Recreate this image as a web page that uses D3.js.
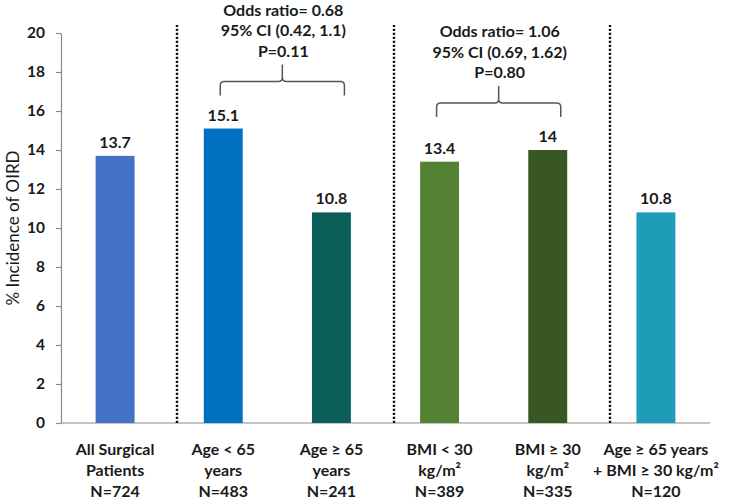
<!DOCTYPE html>
<html>
<head>
<meta charset="utf-8">
<script src="https://cdn.jsdelivr.net/npm/d3@7"></script>
<style>
  html, body { margin: 0; padding: 0; background: #fff; }
  svg { display: block; font-family: Lato, "Open Sans", sans-serif; }
</style>
</head>
<body>
<svg id="chart" width="748" height="504"></svg>
<script>
// ---- data ----
const categoryLabels = [
  ["All Surgical", "Patients", "N=724"],
  ["Age < 65", "years", "N=483"],
  ["Age ≥ 65", "years", "N=241"],
  ["BMI < 30", "kg/m²", "N=389"],
  ["BMI ≥ 30", "kg/m²", "N=335"],
  ["Age ≥ 65 years", "+ BMI ≥ 30 kg/m²", "N=120"]
];
const values = [13.7, 15.1, 10.8, 13.4, 14, 10.8];
const valueLabels = ["13.7", "15.1", "10.8", "13.4", "14", "10.8"];
const barColors = ["#4472C4", "#0070C0", "#0C5F59", "#548235", "#385723", "#1E9CB8"];
const yTicks = [0, 2, 4, 6, 8, 10, 12, 14, 16, 18, 20];
const separatorsBefore = [1, 3, 5];
const comparisons = [
  { from: 1, to: 2, lines: ["Odds ratio= 0.68", "95% CI (0.42, 1.1)", "P=0.11"] },
  { from: 3, to: 4, lines: ["Odds ratio= 1.06", "95% CI (0.69, 1.62)", "P=0.80"] }
];
const yTitle = "% Incidence of OIRD";

// ---- layout ----
(function () {
const svg = d3.select("#chart");
const mLeft = 61, mRight = 710, mTop = 33, mBottom = 423;
const x = d3.scaleBand().domain(d3.range(values.length)).range([mLeft, mRight]).padding(0);
const y = d3.scaleLinear().domain([0, 20]).range([mBottom, mTop]);
const bw = x.bandwidth() * 0.36;
const cx = i => x(i) + x.bandwidth() / 2;
const textColor = "#1a1a1a";
const axisColor = "#8a8a8a";

// y axis
const yAxis = d3.axisLeft(y).tickValues(yTicks).tickSize(5).tickSizeOuter(0).tickPadding(11);
const gy = svg.append("g").attr("transform", `translate(${mLeft},0)`).call(yAxis);
gy.select(".domain").attr("stroke", axisColor).attr("stroke-width", 1.2);
gy.selectAll(".tick line").attr("stroke", axisColor).attr("stroke-width", 1.2);
gy.selectAll(".tick text").attr("fill", textColor).attr("font-size", 15.5).attr("font-weight", "bold")
  .attr("font-family", "Lato, sans-serif");

// baseline
svg.append("line").attr("x1", mLeft).attr("x2", mRight).attr("y1", y(0)).attr("y2", y(0))
  .attr("stroke", axisColor).attr("stroke-width", 1.2);

// y title
svg.append("text")
  .attr("transform", `translate(19,${(mTop + mBottom) / 2}) rotate(-90)`)
  .attr("text-anchor", "middle").attr("font-size", 17).attr("fill", textColor)
  .text(yTitle);

// separators
const sepX = d => Math.round(x(d) + x.bandwidth() * 0.075);
svg.selectAll("line.sep").data(separatorsBefore).join("line").attr("class", "sep")
  .attr("x1", sepX).attr("x2", sepX)
  .attr("y1", y(0)).attr("y2", y(20) - 8)
  .attr("stroke", "#111").attr("stroke-width", 2.4).attr("stroke-dasharray", "2.2,1.8");

// bars
svg.selectAll("rect.bar").data(values).join("rect").attr("class", "bar")
  .attr("x", (d, i) => cx(i) - bw / 2).attr("width", bw)
  .attr("y", d => y(d)).attr("height", d => y(0) - y(d))
  .attr("fill", (d, i) => barColors[i]);

// value labels
svg.selectAll("text.val").data(values).join("text").attr("class", "val")
  .attr("x", (d, i) => cx(i)).attr("y", d => y(d) - 8)
  .attr("text-anchor", "middle").attr("font-size", 16).attr("font-weight", "bold").attr("fill", textColor)
  .text((d, i) => valueLabels[i]);

// category labels
const cat = svg.selectAll("text.cat").data(categoryLabels).join("text").attr("class", "cat")
  .attr("text-anchor", "middle").attr("font-size", 16).attr("font-weight", "bold").attr("fill", textColor);
cat.selectAll("tspan").data((d, i) => d.map(s => ({ s, i }))).join("tspan")
  .attr("x", d => cx(d.i)).attr("y", (d, j) => 455 + j * 21)
  .text(d => d.s);

// braces + annotations
comparisons.forEach(c => {
  const xl = cx(c.from) - 3, xr = cx(c.to) + 13, xm = (xl + xr) / 2;
  const yb = y(Math.max(values[c.from], values[c.to])) - 33;
  const yt = yb - 14, ys = yt - 17, r = 4;
  const p = d3.path();
  p.moveTo(xl, yb); p.lineTo(xl, yt + r); p.quadraticCurveTo(xl, yt, xl + r, yt);
  p.lineTo(xm - r, yt); p.quadraticCurveTo(xm, yt, xm, yt - r); p.lineTo(xm, ys);
  p.moveTo(xm, yt - r); p.quadraticCurveTo(xm, yt, xm + r, yt);
  p.lineTo(xr - r, yt); p.quadraticCurveTo(xr, yt, xr, yt + r); p.lineTo(xr, yb);
  svg.append("path").attr("d", p.toString()).attr("fill", "none")
    .attr("stroke", "#555").attr("stroke-width", 1.5);
  const t = svg.append("text").attr("text-anchor", "middle").attr("font-size", 16)
    .attr("font-weight", "bold").attr("fill", textColor);
  c.lines.forEach((s, j) => {
    t.append("tspan").attr("x", xm + 1).attr("y", ys - 8 - (c.lines.length - 1 - j) * 20.5).text(s);
  });
});
})();
</script>
</body>
</html>
